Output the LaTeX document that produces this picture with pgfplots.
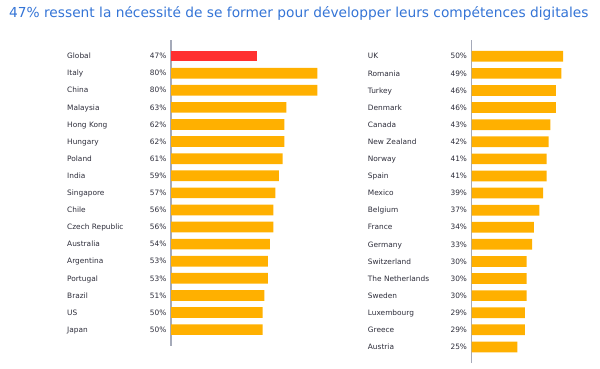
\documentclass[border=0pt]{standalone}
\usepackage{pgfplots}
\usepackage{pgfplotstable}
\pgfplotsset{compat=1.18}
\usepackage{fontspec}
\setmainfont{DejaVu Sans}
\definecolor{barorange}{RGB}{255,176,0}
\definecolor{barred}{RGB}{255,48,48}
\definecolor{titleblue}{RGB}{52,116,214}
\definecolor{txt}{RGB}{45,45,58}
\definecolor{axisgray}{RGB}{165,170,185}

\pgfplotstableread[col sep=comma]{
pos,val,name
0,47,Global
1,80,Italy
2,80,China
3,63,Malaysia
4,62,Hong Kong
5,62,Hungary
6,61,Poland
7,59,India
8,57,Singapore
9,56,Chile
10,56,Czech Republic
11,54,Australia
12,53,Argentina
13,53,Portugal
14,51,Brazil
15,50,US
16,50,Japan
}\lefttab

\pgfplotstableread[col sep=comma]{
pos,val,name
0,50,UK
1,49,Romania
2,46,Turkey
3,46,Denmark
4,43,Canada
5,42,New Zealand
6,41,Norway
7,41,Spain
8,39,Mexico
9,37,Belgium
10,34,France
11,33,Germany
12,30,Switzerland
13,30,The Netherlands
14,30,Sweden
15,29,Luxembourg
16,29,Greece
17,25,Austria
}\righttab

\newcommand{\lblfont}{\fontsize{7.4}{8}\selectfont}

\pgfplotsset{
  panel/.style={
    scale only axis, width=183pt,
    xmin=0, xmax=100,
    y dir=reverse,
    axis x line=none,
    axis y line*=left,
    ytick=\empty, xtick=\empty,
    y axis line style={draw=axisgray, line width=1.2pt, -},
    clip=false,
  },
  barstyle/.style={xbar, bar width=10.7pt, bar shift=0pt, draw=none},
  pctstyle/.style={draw=none, mark=none, nodes near coords={\pgfplotspointmeta\%},
    point meta=explicit symbolic,
    every node near coord/.style={anchor=base east, inner sep=0pt, xshift=-4.5pt, yshift=-2.7pt, font=\lblfont, text=txt}},
  namestyle/.style={draw=none, mark=none, nodes near coords={\pgfplotspointmeta},
    point meta=explicit symbolic,
    every node near coord/.style={anchor=base west, inner sep=0pt, xshift=-104pt, yshift=-2.7pt, font=\lblfont, text=txt}},
}

\begin{document}
\begin{tikzpicture}
\path[use as bounding box] (0,0) rectangle (600pt,368pt);
\node[anchor=west, inner sep=0pt, text=titleblue, font=\fontsize{13.75}{15}\selectfont] at (9pt,355pt) {47\% ressent la nécessité de se former pour développer leurs compétences digitales};

\begin{axis}[panel, at={(171pt,22.3pt)}, anchor=south west, height=305.7pt, ymin=-0.94, ymax=16.94]
\addplot[barstyle, fill=barred, skip coords between index={1}{17}] table[x=val, y=pos] {\lefttab};
\addplot[barstyle, fill=barorange, skip coords between index={0}{1}] table[x=val, y=pos] {\lefttab};
\addplot[pctstyle] table[x expr=0, y=pos, meta=val] {\lefttab};
\addplot[namestyle] table[x expr=0, y=pos, meta=name] {\lefttab};
\end{axis}

\begin{axis}[panel, at={(471.7pt,5pt)}, anchor=south west, height=322.8pt, ymin=-0.94, ymax=17.94]
\addplot[barstyle, fill=barorange] table[x=val, y=pos] {\righttab};
\addplot[pctstyle] table[x expr=0, y=pos, meta=val] {\righttab};
\addplot[namestyle] table[x expr=0, y=pos, meta=name] {\righttab};
\end{axis}
\end{tikzpicture}
\end{document}
